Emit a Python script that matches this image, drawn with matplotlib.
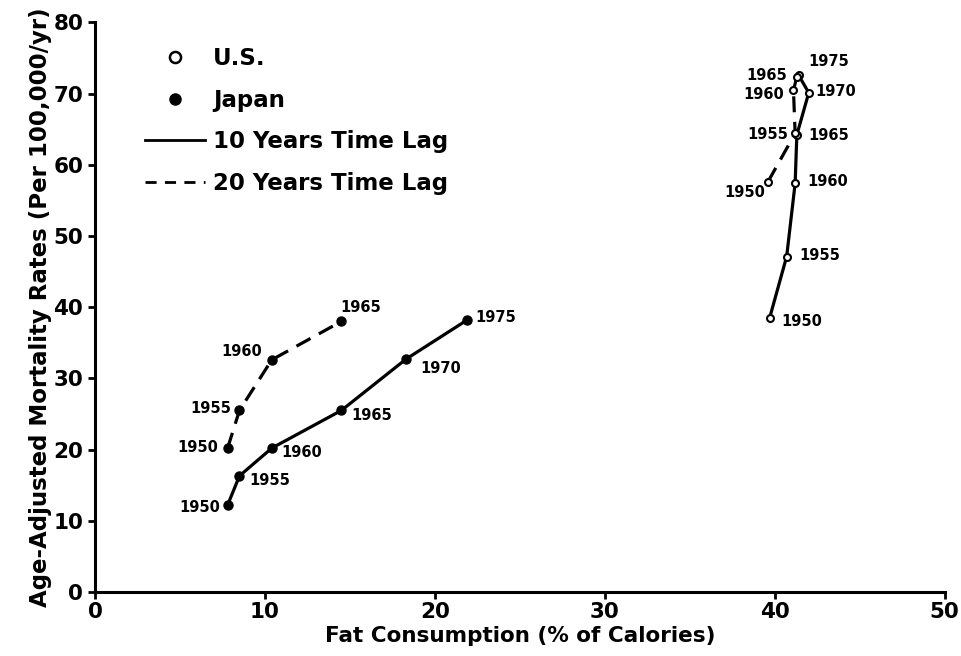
import matplotlib
matplotlib.use("Agg")
import matplotlib.pyplot as plt
from matplotlib.lines import Line2D

plt.rcParams['font.family'] = ['DejaVu Sans']
plt.rcParams['font.weight'] = 'bold'

# Data
jp10_years = ["1950", "1955", "1960", "1965", "1970", "1975"]
jp10_fat = [7.8, 8.5, 10.4, 14.5, 18.3, 21.9]
jp10_mort = [12.2, 16.3, 20.2, 25.5, 32.7, 38.2]

jp20_years = ["1950", "1955", "1960", "1965"]
jp20_fat = [7.8, 8.5, 10.4, 14.5]
jp20_mort = [20.2, 25.5, 32.6, 38.0]

us10_years = ["1950", "1955", "1960", "1965", "1970", "1975"]
us10_fat = [39.7, 40.7, 41.2, 41.3, 42.0, 41.4]
us10_mort = [38.5, 47.1, 57.4, 64.2, 70.1, 72.6]

us20_years = ["1950", "1955", "1960", "1965"]
us20_fat = [39.6, 41.2, 41.1, 41.3]
us20_mort = [57.6, 64.4, 70.5, 72.3]

x_ticks = [0, 10, 20, 30, 40, 50]
y_ticks = [0, 10, 20, 30, 40, 50, 60, 70, 80]

# label offsets (pixels) and alignment
jp10_off = [(-7, -2, 'right'), (10, -5, 'left'), (10, -4, 'left'), (10, -5, 'left'), (14, -9, 'left'), (8, 2, 'left')]
jp20_off = [(-9, 1, 'right'), (-8, 2, 'right'), (-10, 8, 'right'), (19, 14, 'center')]
us10_off = [(12, -4, 'left'), (13, 1, 'left'), (12, 2, 'left'), (11, -1, 'left'), (7, 1, 'left'), (10, 13, 'left')]
us20_off = [(-3, -11, 'right'), (-7, -1, 'right'), (-9, -5, 'right'), (-10, 2, 'right')]

fig = plt.figure(figsize=(9.62, 6.56), dpi=100)
ax = fig.add_axes([0.0988, 0.0976, 0.8832, 0.8684])

lw = 2.3
dash = (0, (5, 3))

ax.plot(jp10_fat, jp10_mort, color='black', lw=lw, marker='o', ms=6.5, mfc='black', zorder=3)
ax.plot(jp20_fat, jp20_mort, color='black', lw=lw, ls=dash, marker='o', ms=6.5, mfc='black', zorder=3)
ax.plot(us10_fat, us10_mort, color='black', lw=lw, marker='o', ms=5, mfc='white', mew=1.5, zorder=3)
ax.plot(us20_fat, us20_mort, color='black', lw=lw, ls=dash, marker='o', ms=5, mfc='white', mew=1.5, zorder=3)

def label(xs, ys, yrs, offs):
    for x, y, t, (dx, dy, ha) in zip(xs, ys, yrs, offs):
        ax.annotate(t, (x, y), xytext=(dx, dy), textcoords='offset pixels',
                    ha=ha, va='center', fontsize=10.5, fontweight='bold')

label(jp10_fat, jp10_mort, jp10_years, jp10_off)
label(jp20_fat, jp20_mort, jp20_years, jp20_off)
label(us10_fat, us10_mort, us10_years, us10_off)
label(us20_fat, us20_mort, us20_years, us20_off)

ax.set_xlim(0, 50)
ax.set_ylim(0, 80)
ax.set_xticks(x_ticks)
ax.set_yticks(y_ticks)
ax.tick_params(axis='both', labelsize=15.5, width=2, length=5, direction='out')
ax.tick_params(axis='x', pad=2)
for lab in ax.get_xticklabels() + ax.get_yticklabels():
    lab.set_fontweight('bold')
for s in ['top', 'right']:
    ax.spines[s].set_visible(False)
for s in ['left', 'bottom']:
    ax.spines[s].set_linewidth(2.2)

ax.set_xlabel('Fat Consumption (% of Calories)', fontsize=15.5, fontweight='bold', labelpad=3)
ax.set_ylabel('Age-Adjusted Mortality Rates (Per 100,000/yr)', fontsize=16.5, fontweight='bold', labelpad=1)

handles = [
    Line2D([], [], ls='none', marker='o', mfc='white', mec='black', mew=1.8, ms=8, color='black'),
    Line2D([], [], ls='none', marker='o', mfc='black', mec='black', ms=8, color='black'),
    Line2D([], [], color='black', lw=2),
    Line2D([], [], color='black', lw=2, ls=(0, (4, 3))),
]
labels = ['U.S.', 'Japan', '10 Years Time Lag', '20 Years Time Lag']
leg = ax.legend(handles, labels, loc='upper left', bbox_to_anchor=(0.059, 0.957), frameon=False,
                fontsize=16.5, handlelength=2.6, labelspacing=0.82, handletextpad=0.35,
                borderpad=0, borderaxespad=0)
for t in leg.get_texts():
    t.set_fontweight('bold')

fig.savefig('out.png', dpi=100)
